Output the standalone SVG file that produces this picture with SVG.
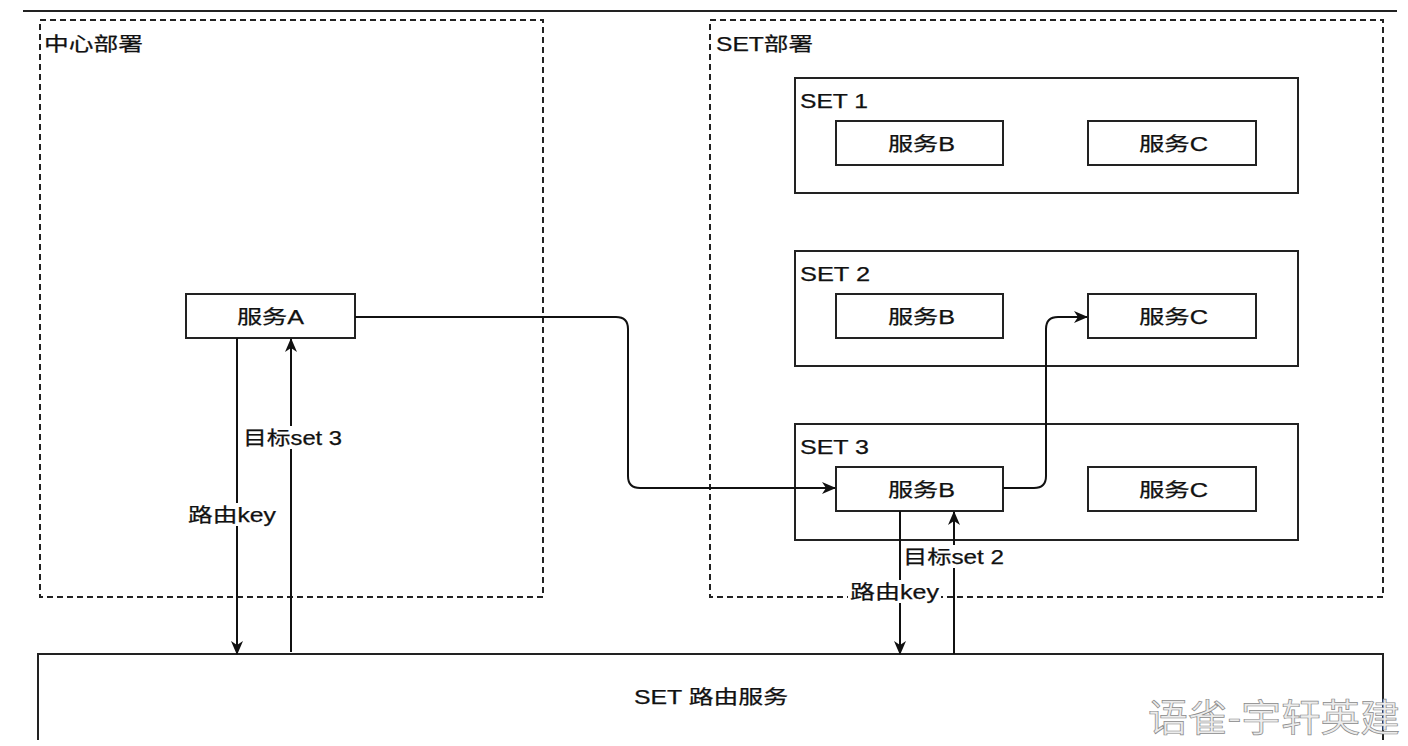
<svg xmlns="http://www.w3.org/2000/svg" width="1408" height="746" viewBox="0 0 1408 746">
<style>
.t{font-family:"Liberation Sans","Noto Sans CJK SC",sans-serif;font-size:19.5px;fill:#111;stroke:#111;stroke-width:0.25}
.box{fill:#fff;stroke:#222;stroke-width:2}
.dash{fill:none;stroke:#222;stroke-width:2;stroke-dasharray:6 4}
.ln{fill:none;stroke:#111;stroke-width:2}
.wm{font-family:"Noto Sans CJK SC",sans-serif;font-size:38px;fill:#ececec;stroke:#8a8a8a;stroke-width:0.7}
</style>
<defs>
<marker id="ah" viewBox="0 0 14 14" refX="13" refY="7" markerWidth="14" markerHeight="14" markerUnits="userSpaceOnUse" orient="auto">
<path d="M0,1 L14,7 L0,13 L4,7 Z" fill="#111"/>
</marker>
</defs>
<rect width="1408" height="746" fill="#fff"/>
<line x1="23" y1="11" x2="1397" y2="11" stroke="#222" stroke-width="2"/>

<g id="center-deploy">
<rect class="dash" x="40" y="20" width="503" height="577"/>
<text class="t" x="44" y="51" textLength="99" lengthAdjust="spacingAndGlyphs">中心部署</text>
</g>
<g id="set-deploy">
<rect class="dash" x="710" y="20" width="673" height="577"/>
<text class="t" x="716" y="51" textLength="97" lengthAdjust="spacingAndGlyphs">SET部署</text>
</g>

<g id="set1">
<rect class="box" x="795" y="78" width="503" height="115"/>
<text class="t" x="800" y="108" textLength="68" lengthAdjust="spacingAndGlyphs">SET 1</text>
</g>
<g id="set1-b"><rect class="box" x="836" y="121" width="167" height="44"/><text class="t" x="888" y="151" textLength="67" lengthAdjust="spacingAndGlyphs">服务B</text></g>
<g id="set1-c"><rect class="box" x="1088" y="121" width="168" height="44"/><text class="t" x="1139" y="151" textLength="69" lengthAdjust="spacingAndGlyphs">服务C</text></g>

<g id="set2">
<rect class="box" x="795" y="251" width="503" height="115"/>
<text class="t" x="800" y="281" textLength="70" lengthAdjust="spacingAndGlyphs">SET 2</text>
</g>
<g id="set2-b"><rect class="box" x="836" y="294" width="167" height="44"/><text class="t" x="888" y="324" textLength="67" lengthAdjust="spacingAndGlyphs">服务B</text></g>
<g id="set2-c"><rect class="box" x="1088" y="294" width="168" height="44"/><text class="t" x="1139" y="324" textLength="69" lengthAdjust="spacingAndGlyphs">服务C</text></g>

<g id="set3">
<rect class="box" x="795" y="424" width="503" height="116"/>
<text class="t" x="800" y="454" textLength="69" lengthAdjust="spacingAndGlyphs">SET 3</text>
</g>
<g id="set3-b"><rect class="box" x="836" y="467" width="167" height="44"/><text class="t" x="888" y="497" textLength="67" lengthAdjust="spacingAndGlyphs">服务B</text></g>
<g id="set3-c"><rect class="box" x="1088" y="467" width="168" height="44"/><text class="t" x="1139" y="497" textLength="69" lengthAdjust="spacingAndGlyphs">服务C</text></g>

<g id="service-a"><rect class="box" x="186" y="294" width="169" height="44"/><text class="t" x="237" y="324" textLength="67" lengthAdjust="spacingAndGlyphs">服务A</text></g>

<g id="set-router">
<path d="M38,740 L38,654 L1383,654 L1383,740" fill="#fff" stroke="#222" stroke-width="2"/>
<text class="t" x="634" y="704" textLength="154" lengthAdjust="spacingAndGlyphs">SET 路由服务</text>
</g>

<g id="connectors">
<line class="ln" x1="237" y1="338" x2="237" y2="654" marker-end="url(#ah)"/>
<line class="ln" x1="291" y1="652" x2="291" y2="339" marker-end="url(#ah)"/>
<path class="ln" d="M355,317 L616,317 Q628,317 628,329 L628,476 Q628,488 640,488 L835,488" marker-end="url(#ah)"/>
<path class="ln" d="M1003,488 L1034,488 Q1046,488 1046,476 L1046,329 Q1046,317 1058,317 L1087,317" marker-end="url(#ah)"/>
<line class="ln" x1="900" y1="511" x2="900" y2="654" marker-end="url(#ah)"/>
<line class="ln" x1="954" y1="654" x2="954" y2="512" marker-end="url(#ah)"/>
<rect x="240" y="426" width="104" height="23" fill="#fff"/>
<text class="t" x="243" y="445" textLength="99" lengthAdjust="spacingAndGlyphs">目标set 3</text>
<rect x="186" y="503" width="92" height="23" fill="#fff"/>
<text class="t" x="188" y="522" textLength="88" lengthAdjust="spacingAndGlyphs">路由key</text>
<rect x="901" y="545" width="105" height="23" fill="#fff"/>
<text class="t" x="903" y="564" textLength="101" lengthAdjust="spacingAndGlyphs">目标set 2</text>
<rect x="848" y="580" width="93" height="23" fill="#fff"/>
<text class="t" x="850" y="599" textLength="89" lengthAdjust="spacingAndGlyphs">路由key</text>
</g>

<text class="wm" x="1148" y="731" textLength="252" lengthAdjust="spacingAndGlyphs">语雀-宇轩英建</text>
</svg>
